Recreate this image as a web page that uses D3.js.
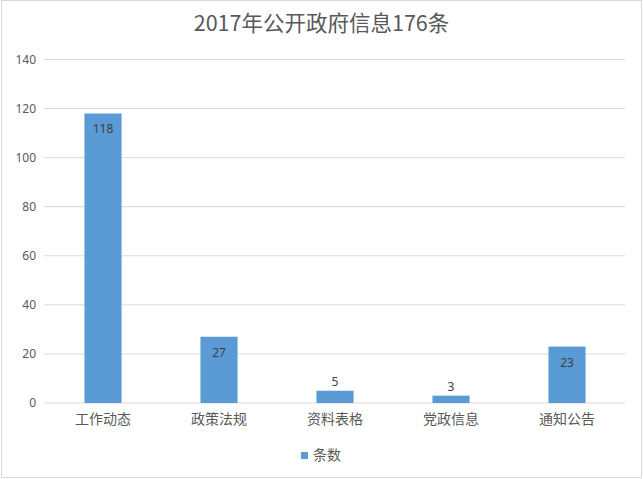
<!DOCTYPE html>
<html lang="zh">
<head>
  <meta charset="UTF-8">
  <title>2017年公开政府信息</title>
  <script src="https://d3js.org/d3.v7.min.js"></script>
  <style>
    body { margin: 0; background: #fff; }
    text { font-family: "Noto Sans CJK SC", "Noto Sans", sans-serif; }
  </style>
</head>
<body>
  <svg width="643" height="479"></svg>
  <script>
  const categories = ["工作动态", "政策法规", "资料表格", "党政信息", "通知公告"];
  const counts = [118, 27, 5, 3, 23];
  const yTicks = [0, 20, 40, 60, 80, 100, 120, 140];
  const title = "2017年公开政府信息176条";
  const seriesName = "条数";

  const margin = { top: 59.5, right: 18, bottom: 76, left: 45 };
  const W = 643, H = 479;
  const width = W - margin.left - margin.right;
  const height = H - margin.top - margin.bottom;

  const svg = d3.select("svg");

  svg.append("rect")
    .attr("x", 1.5).attr("y", 0.5)
    .attr("width", W - 3).attr("height", H - 2)
    .attr("fill", "#fff")
    .attr("stroke", "#d9d9d9");

  svg.append("text")
    .attr("x", W / 2)
    .attr("y", 31)
    .attr("text-anchor", "middle")
    .attr("font-size", "21.5px")
    .attr("fill", "#595959")
    .text(title);

  const g = svg.append("g")
    .attr("transform", `translate(${margin.left},${margin.top})`);

  const x = d3.scaleBand().domain(categories).range([0, width]).paddingInner(0.68).paddingOuter(0.34);
  const y = d3.scaleLinear().domain([0, 140]).range([height, 0]);

  // gridlines
  g.append("g")
    .selectAll("line")
    .data(yTicks)
    .join("line")
    .attr("x1", -1).attr("x2", width)
    .attr("y1", d => y(d)).attr("y2", d => y(d))
    .attr("stroke", "#d9d9d9");

  const yAxis = g.append("g")
    .call(d3.axisLeft(y).tickValues(yTicks).tickSize(0).tickPadding(9));
  yAxis.select(".domain").remove();
  yAxis.selectAll("text")
    .attr("font-size", "12px")
    .attr("fill", "#595959")
    .style("font-family", "'Noto Sans', sans-serif");

  const xAxis = g.append("g")
    .attr("transform", `translate(0,${height})`)
    .call(d3.axisBottom(x).tickSize(0).tickPadding(11));
  xAxis.select(".domain").remove();
  xAxis.selectAll("text")
    .attr("font-size", "14px")
    .attr("fill", "#595959");

  g.selectAll(".bar")
    .data(categories)
    .join("rect")
    .attr("class", "bar")
    .attr("x", d => x(d))
    .attr("y", (d, i) => y(counts[i]))
    .attr("width", x.bandwidth())
    .attr("height", (d, i) => height - y(counts[i]))
    .attr("fill", "#5b9bd5");

  g.selectAll(".label")
    .data(categories)
    .join("text")
    .attr("class", "label")
    .attr("x", d => x(d) + x.bandwidth() / 2)
    .attr("y", (d, i) => {
      const h = height - y(counts[i]);
      return h > 20 ? y(counts[i]) + 20 : y(counts[i]) - 5;
    })
    .attr("text-anchor", "middle")
    .attr("font-size", "12px")
    .attr("fill", "#404040")
    .style("font-family", "'Noto Sans', sans-serif")
    .text((d, i) => counts[i]);

  // legend
  const legend = svg.append("g").attr("transform", "translate(301,452)");
  legend.append("rect")
    .attr("width", 7).attr("height", 7)
    .attr("fill", "#5b9bd5");
  legend.append("text")
    .attr("x", 12).attr("y", 8)
    .attr("font-size", "14px")
    .attr("fill", "#595959")
    .text(seriesName);
  </script>
</body>
</html>
